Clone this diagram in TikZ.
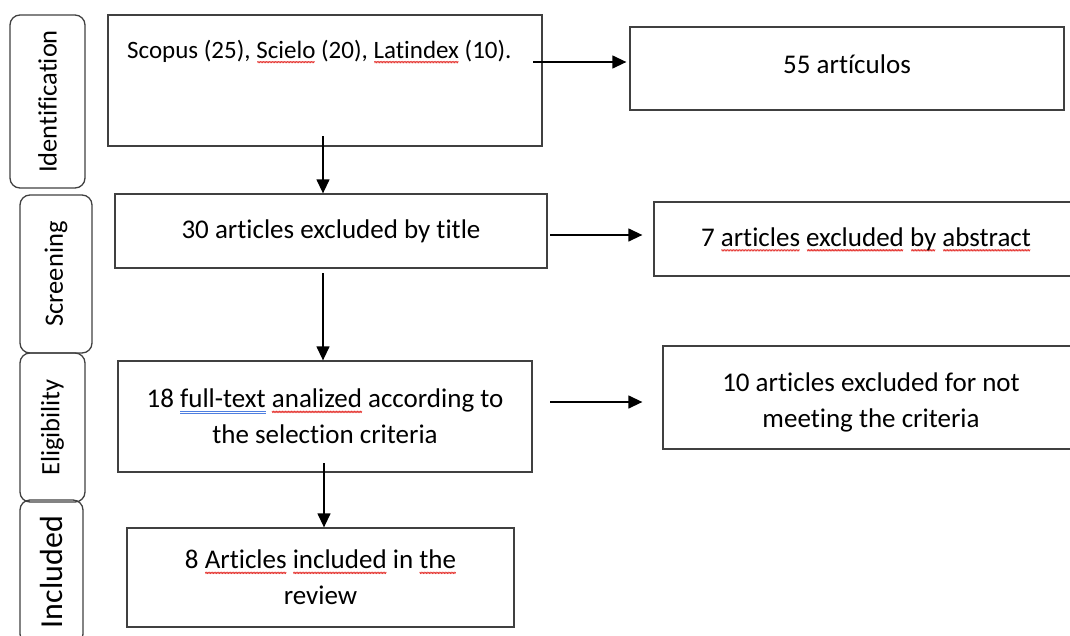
\documentclass[tikz,border=0pt]{standalone}
\usepackage{fontspec}
\setmainfont{Carlito}[RawFeature={-liga;-clig;-dlig}]
\usetikzlibrary{arrows.meta}
\definecolor{edge}{HTML}{404040}
\definecolor{spellred}{HTML}{E53935}
\definecolor{spellblue}{HTML}{4F7FE0}
\newsavebox\sqbox
\newcommand\wavepiece{\tikz[baseline=0pt]{\useasboundingbox (0pt,0pt) rectangle (3pt,0pt);\draw[spellred,line width=0.6pt,line join=round] (0pt,-3.2pt) -- (0.75pt,-5pt) -- (1.5pt,-3.2pt) -- (2.25pt,-5pt) -- (3pt,-3.2pt);}}
\newcommand\sqw[1]{\sbox\sqbox{#1}\rlap{\hbox to \wd\sqbox{\cleaders\hbox{\wavepiece}\hfill}}\usebox\sqbox}
\newcommand\dbl[1]{\sbox\sqbox{#1}\rlap{\textcolor{spellblue}{\rlap{\rule[-3.8pt]{\wd\sqbox}{0.7pt}}\rule[-5.8pt]{\wd\sqbox}{0.7pt}}}\usebox\sqbox}
\begin{document}
\begin{tikzpicture}[x=1pt,y=-1pt,
  box/.style={draw=edge,line width=1.3pt,inner sep=0pt,align=center,font=\fontsize{27}{36}\selectfont},
  tab/.style={draw=edge,line width=1.3pt,rounded corners=10pt,rotate=90,inner sep=0pt,font=\fontsize{26.5}{30}\selectfont},
  txt/.style={inner sep=0pt,align=center,font=\fontsize{27}{36}\selectfont},
  arr/.style={draw=black,line width=1.3pt,-{Triangle[length=14pt,width=13pt]}}]
\useasboundingbox (0,0) rectangle (1070,635);
% side tabs
\node[tab,minimum width=173pt,minimum height=75pt] (tId) at (47.5,101.5) {Identification};
\node[tab,minimum width=158pt,minimum height=72pt] (tSc) at (56,274) {Screening};
\node[tab,minimum width=149pt,minimum height=65pt] (tEl) at (52.5,427.5) {Eligibility};
\node[tab,minimum width=144pt,minimum height=63pt,font=\fontsize{32}{36}\selectfont] (tIn) at (51.5,572) {Included};
% boxes
\node[box,minimum width=434pt,minimum height=131pt] (b1) at (325,80.5) {};
\node[txt,anchor=base west,font=\fontsize{25}{30}\selectfont] (t1) at (127,58) {Scopus (25), \sqw{Scielo} (20), \sqw{Latindex} (10).};
\node[box,minimum width=434pt,minimum height=83pt] (b55) at (847,68.5) {};
\node[txt,anchor=base] (t55) at (847,73) {55 artículos};
\node[box,minimum width=432pt,minimum height=74pt] (b2) at (331,231) {30 articles excluded by title};
\node[box,minimum width=424pt,minimum height=74pt] (b7) at (866,239) {7 \sqw{articles} \sqw{excluded} \sqw{by} \sqw{abstract}};
\node[box,minimum width=414pt,minimum height=111pt] (b3) at (325,416.5) {18 \dbl{full-text} \sqw{analized} according to\\the selection criteria};
\node[box,minimum width=416pt,minimum height=103pt] (b10) at (871,397.5) {};
\node[txt] (t10) at (871,402) {10 articles excluded for not\\meeting the criteria};
\node[box,minimum width=387pt,minimum height=99pt] (b4) at (320.5,577.5) {8 \sqw{Articles} \sqw{included} in \sqw{the}\\review};
% connectors
\coordinate (a1) at (533,62);
\draw[arr,shorten >=3pt] (a1) -- (a1 -| b55.west);
\coordinate (a2) at (323,136);
\draw[arr] (a2) -- (a2 |- b2.north);
\coordinate (a3) at (550,235);
\draw[arr,shorten >=11pt] (a3) -- (a3 -| b7.west);
\coordinate (a4) at (323,273);
\draw[arr] (a4) -- (a4 |- b3.north);
\coordinate (a5) at (550,402);
\draw[arr,shorten >=20pt] (a5) -- (a5 -| b10.west);
\coordinate (a6) at (324,463);
\draw[arr] (a6) -- (a6 |- b4.north);
\end{tikzpicture}
\end{document}
